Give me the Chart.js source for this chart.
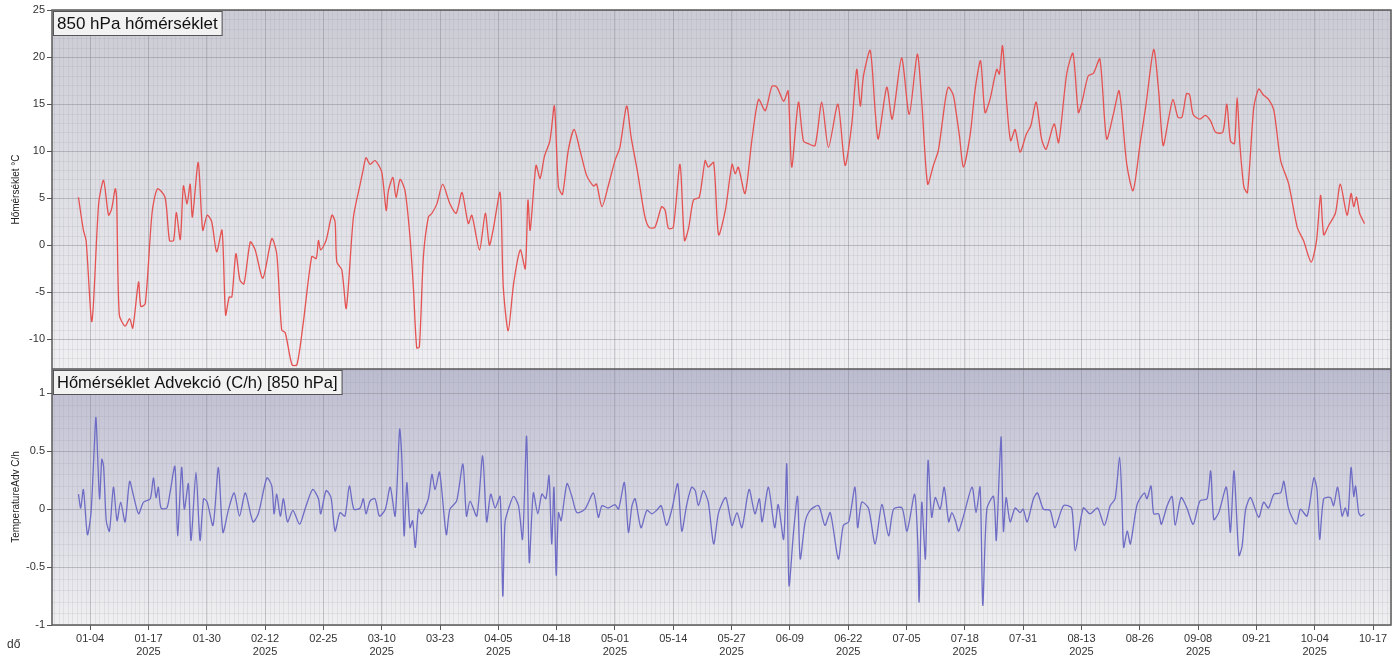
<!DOCTYPE html>
<html><head><meta charset="utf-8">
<script src="https://cdn.jsdelivr.net/npm/chart.js@4.4.1/dist/chart.umd.min.js"></script>
<style>html,body{margin:0;padding:0;background:#fff;}#wrap{width:1394px;height:661px;}</style>
</head><body><div id="wrap"><canvas id="c" width="1394" height="661"></canvas></div>
<script>
// ---- data ----
const tickDays = [3,16,29,42,55,68,81,94,107,120,133,146,159,172,185,198,211,224,237,250,263,276,289];
const tickLabels = ['01-04','01-17','01-30','02-12','02-25','03-10','03-23','04-05','04-18','05-01','05-14','05-27','06-09','06-22','07-05','07-18','07-31','08-13','08-26','09-08','09-21','10-04','10-17'];
const yearLabel = '2025';
const tempTicks = [-10,-5,0,5,10,15,20,25];
const advTicks = [-1,-0.5,0,0.5,1];
const tempTitle = '850 hPa hőmérséklet';
const advTitle = 'Hőmérséklet Advekció (C/h) [850 hPa]';

const tempDays = [0.4,1.5,2.1,3.4,4.9,6.0,7.1,7.8,8.6,8.9,9.5,10.8,11.8,12.5,13.8,14.3,15.3,16.8,18.0,19.7,20.7,21.6,22.2,23.1,23.8,24.6,25.3,25.8,27.1,28.1,29.1,30.1,31.2,32.4,33.2,34.0,34.6,35.5,36.4,37.3,38.7,39.8,41.5,43.5,44.6,45.7,46.5,48.0,49.1,50.5,52.4,53.4,53.9,54.4,55.6,56.9,57.6,58.0,59.1,60.1,61.7,63.2,63.9,64.5,65.4,66.5,68.0,69.0,69.5,70.5,71.2,72.1,73.2,74.3,75.1,75.8,76.4,77.3,78.4,79.2,80.3,81.6,83.2,84.6,85.9,87.3,88.1,89.8,91.1,92.0,92.9,94.4,95.1,96.2,97.4,98.9,100.0,100.6,101.1,102.4,103.3,104.3,105.5,106.5,107.4,108.3,109.6,110.9,112.2,113.7,115.2,115.9,117.1,118.5,120.0,121.1,122.6,123.6,125.1,126.6,127.6,128.9,130.4,131.2,131.9,133.0,134.5,135.5,136.4,137.5,138.8,140.1,140.8,142.0,143.1,144.6,146.1,146.8,147.5,149.0,150.5,152.0,153.5,155.0,156.1,157.6,158.6,159.4,160.9,162.0,163.1,164.6,166.1,167.6,169.7,171.3,172.8,173.9,174.7,175.4,176.9,178.0,178.7,180.6,181.8,183.9,185.6,187.4,188.4,189.7,191.0,192.1,193.6,194.3,195.4,196.0,196.8,197.7,199.2,200.3,201.5,202.5,203.6,205.1,205.7,206.4,207.3,208.2,209.2,210.3,211.7,212.7,213.9,215.1,216.1,217.9,218.9,220.7,222.1,223.3,224.1,225.5,226.7,228.1,229.6,231.1,232.4,234.1,235.5,237.1,238.4,240.1,241.2,242.2,243.4,244.4,245.5,246.4,247.4,248.1,248.9,250.4,251.6,252.8,253.9,255.5,256.4,257.2,258.1,258.7,259.3,260.2,261.0,262.4,263.5,264.5,265.7,266.9,268.4,270.2,272.1,273.5,275.2,276.4,277.3,278.0,279.1,280.6,281.7,283.2,284.1,284.7,285.3,286.0,287.1];
const tempVals = [5.1,1.6,0.5,-8.1,4.4,6.9,3.2,3.9,6.0,5.1,-7.4,-8.6,-7.8,-8.8,-3.9,-6.5,-6.2,3.4,6.0,5.1,0.5,0.5,3.5,0.6,6.3,4.4,6.5,3.0,8.8,1.6,3.2,2.5,-0.7,1.6,-7.4,-5.5,-5.5,-0.9,-3.7,-4.1,0.35,-0.5,-3.5,0.7,-0.9,-9.0,-9.3,-12.7,-12.7,-8.3,-1.2,-1.4,0.5,-0.5,0.5,3.2,2.5,-1.8,-2.6,-6.7,3.0,6.5,8.1,9.3,8.6,9.0,7.8,3.7,5.8,7.2,5.1,7.0,5.8,0.9,-4.8,-10.9,-10.8,-1.2,3.0,3.4,4.4,6.5,4.4,3.4,5.6,2.3,3.2,-0.5,3.4,0,1.8,5.6,-4.4,-9.1,-4.1,-0.5,-2.5,4.8,1.6,8.5,7.1,9.5,11.1,14.8,6.2,5.4,10.1,12.3,10.1,7.4,6.3,6.5,4.1,6.3,9.0,10.4,14.8,11.5,7.6,3.2,1.9,1.9,4.1,3.7,1.8,1.9,8.6,0.5,1.8,4.8,5.1,9.0,8.3,8.8,1.1,3.7,8.6,7.6,8.3,5.5,11.1,15.5,14.3,16.9,16.8,15.3,16.4,8.3,15.2,11.1,10.8,10.6,15.2,10.4,15.0,8.5,12.9,18.7,14.8,18.0,20.7,14.3,11.3,16.8,13.4,19.9,13.9,20.3,15.2,6.5,8.5,10.1,15.3,16.8,16.0,14.3,11.6,8.3,11.8,16.6,19.6,14.1,15.5,18.7,18.2,21.2,15.3,11.1,12.3,9.9,11.8,12.7,15.2,11.3,10.2,12.9,10.9,18.2,20.4,14.1,15.2,18.0,18.3,19.8,11.3,13.9,16.4,8.6,5.8,10.9,15.0,20.8,16.4,10.6,13.4,15.5,13.6,13.6,16.1,16.0,13.9,13.4,13.8,13.2,12.0,12.0,15.0,11.1,10.8,15.7,10.8,6.2,5.6,14.6,16.6,16.0,15.5,14.3,9.0,6.5,1.9,0.5,-1.8,0.5,5.3,1.1,2.1,3.4,6.5,3.2,5.5,4.1,5.1,3.4,2.3];

const advDays = [0.4,0.9,1.5,2.4,3.2,3.9,4.3,5.1,5.6,6.0,6.6,7.3,8.2,9.0,9.8,10.8,11.8,12.7,13.8,14.9,16.4,17.1,17.7,18.2,18.8,20.1,20.8,21.9,22.5,23.4,24.0,24.9,25.5,26.6,27.5,28.3,29.1,30.4,31.6,32.6,33.8,35.1,36.3,37.6,39.3,40.5,42.4,43.5,44.0,44.6,45.4,46.1,47.0,48.2,49.7,50.9,52.6,53.9,54.4,55.6,56.7,57.6,58.7,59.8,60.8,61.8,63.2,63.9,64.5,65.4,66.5,67.5,68.8,69.9,71.0,72.0,72.5,73.0,73.6,74.3,74.9,75.5,76.2,76.9,78.4,79.2,79.9,80.9,82.4,83.2,84.7,86.1,86.9,87.7,89.2,90.5,91.4,92.3,93.3,94.4,95.0,95.5,96.5,97.4,98.5,99.4,100.3,100.9,101.8,102.8,103.7,104.6,105.3,105.9,106.4,106.9,107.4,108.0,109.3,110.4,111.5,113.3,115.2,116.3,117.1,118.5,120.0,120.8,122.1,123.0,123.8,124.5,125.8,127.1,128.2,129.3,130.3,131.5,132.7,134.0,134.9,136.0,137.1,137.9,138.6,139.7,140.8,142.0,143.1,144.7,146.1,147.2,148.3,149.9,151.2,152.2,152.8,154.2,155.6,156.4,157.6,158.3,158.8,159.8,160.7,161.3,162.4,163.5,165.4,166.8,168.0,169.8,170.9,172.1,173.5,174.1,175.0,176.5,178.0,179.5,181.0,182.1,184.0,185.1,186.8,187.5,187.8,188.4,189.2,189.8,190.6,191.4,192.5,193.4,194.4,195.1,195.9,196.6,197.7,199.6,200.5,201.4,202.0,202.9,204.4,205.0,205.7,206.1,206.6,207.2,208.1,209.2,210.3,211.0,211.9,213.3,214.2,215.5,217.0,218.1,220.0,221.8,222.6,224.4,225.9,227.6,229.1,230.4,231.5,232.5,233.0,233.4,234.2,234.9,236.4,238.0,238.6,239.5,240.1,241.2,241.8,243.1,244.2,244.9,246.2,247.5,248.9,250.4,252.0,252.8,253.5,254.6,256.3,257.2,258.0,259.1,259.8,260.6,261.7,263.5,264.6,265.7,266.9,268.4,269.1,270.2,271.9,272.8,274.3,275.8,276.5,277.1,278.0,279.5,280.2,281.1,282.1,282.8,283.4,284.1,284.7,285.1,285.8,286.3,287.1];
const advVals = [0.13,0.01,0.17,-0.22,-0.03,0.52,0.79,0.09,0.43,0.37,-0.10,-0.19,0.19,-0.10,0.06,-0.11,0.24,0.11,-0.04,0.06,0.09,0.27,0.10,0.19,0.01,0.01,0.14,0.37,-0.23,0.36,0,0.22,-0.27,0.32,-0.27,0.09,0.06,-0.14,0.36,-0.20,-0.01,0.14,-0.06,0.14,-0.11,-0.04,0.27,0.20,-0.04,0.13,-0.06,0.09,-0.11,-0.01,-0.13,0,0.17,0.09,-0.04,0.16,0.10,-0.19,-0.03,-0.06,0.20,0,0.01,0.09,-0.04,0.07,0.09,-0.06,0,0.19,-0.06,0.69,0.43,-0.23,0.23,-0.16,-0.10,-0.33,0,-0.04,0.09,0.30,0.17,0.32,-0.22,0,0.07,0.39,-0.06,0.07,-0.06,0.46,-0.11,0.13,0.01,0.11,-0.75,-0.11,0.03,0.11,0.03,-0.26,0.63,-0.46,0.14,-0.04,0.13,0.09,0.29,-0.30,0.19,-0.57,-0.03,-0.10,0.22,0.11,-0.03,0,0.14,-0.07,0.03,0.01,0.04,0,0.23,-0.20,0.03,0.09,-0.16,-0.01,-0.04,-0.01,0.03,-0.14,0,0.22,-0.19,0.04,0.19,0.16,0.03,0.16,0.06,-0.30,-0.03,0.10,-0.14,-0.03,-0.16,0.17,-0.04,0.09,-0.11,0.19,-0.16,0.04,-0.26,0.39,-0.66,-0.20,0.11,-0.43,-0.11,-0.01,0.03,-0.14,-0.03,-0.43,-0.14,-0.11,0.19,-0.16,0.06,0.01,-0.30,0.04,-0.23,0,0.01,-0.19,0.13,-0.29,-0.80,0.06,-0.43,0.42,-0.07,0.10,0,0.19,-0.11,-0.03,-0.10,-0.19,-0.06,0.19,-0.03,0.19,-0.83,0,0.11,-0.27,0.34,0.62,-0.19,0.10,-0.11,0.01,-0.03,0,-0.11,0.09,0.14,0,-0.01,-0.16,0.03,0.01,-0.36,0.01,-0.04,0.01,-0.14,0.03,0.09,0.45,0.09,-0.33,-0.19,-0.30,0.04,0.14,0.09,0.20,-0.04,-0.04,-0.13,0.03,0.11,-0.14,0.10,0.01,-0.13,0.07,0.09,0.33,-0.09,-0.03,0.19,-0.20,0.33,-0.40,-0.32,0,0.10,-0.07,0.06,0.01,0.13,0.14,0.24,0,-0.13,0,-0.06,0.27,0.17,-0.26,0.09,0.10,0.03,0.19,-0.06,0.01,-0.06,0.36,0.11,0.20,-0.03,-0.06,-0.04];

// ---- chart ----
const FONT = 'Liberation Sans, Arial, sans-serif';
const tempPts = tempDays.map((d,i)=>({x:d,y:tempVals[i]}));
const advPts = advDays.map((d,i)=>({x:d,y:advVals[i]}));

const panelPlugin = {
  id:'panels',
  beforeDraw(chart){
    const ctx = chart.ctx, ca = chart.chartArea;
    const sT = chart.scales.yT, sA = chart.scales.yA, sx = chart.scales.x;
    ctx.save();
    let g = ctx.createLinearGradient(0,sT.top,0,sT.bottom);
    g.addColorStop(0,'rgb(203,203,213)'); g.addColorStop(1,'rgb(240,240,243)');
    ctx.fillStyle = g; ctx.fillRect(ca.left,sT.top,ca.right-ca.left,sT.bottom-sT.top);
    g = ctx.createLinearGradient(0,sA.top,0,sA.bottom);
    g.addColorStop(0,'rgb(188,188,208)'); g.addColorStop(1,'rgb(240,240,242)');
    ctx.fillStyle = g; ctx.fillRect(ca.left,sA.top,ca.right-ca.left,sA.bottom-sA.top);
    // minor grid
    ctx.lineWidth = 1;
    ctx.strokeStyle = 'rgba(150,150,162,0.16)';
    ctx.beginPath();
    for (let d = Math.ceil(sx.min); d <= sx.max; d += 1) {
      const px = Math.round(sx.getPixelForValue(d)) + 0.5;
      ctx.moveTo(px, ca.top); ctx.lineTo(px, ca.bottom);
    }
    for (let v = -13; v <= 25; v += 1) {
      const py = Math.round(sT.getPixelForValue(v)) + 0.5;
      if (py > sT.top && py < sT.bottom) { ctx.moveTo(ca.left, py); ctx.lineTo(ca.right, py); }
    }
    for (let k = -10; k <= 12; k += 1) {
      const py = Math.round(sA.getPixelForValue(k/10)) + 0.5;
      if (py > sA.top && py < sA.bottom) { ctx.moveTo(ca.left, py); ctx.lineTo(ca.right, py); }
    }
    ctx.stroke();
    ctx.restore();
  },
  afterDraw(chart){
    const ctx = chart.ctx, ca = chart.chartArea;
    const sT = chart.scales.yT, sA = chart.scales.yA;
    ctx.save();
    ctx.strokeStyle = '#5a5a5a'; ctx.lineWidth = 1.5;
    ctx.strokeRect(ca.left, ca.top, ca.right-ca.left, ca.bottom-ca.top);
    ctx.beginPath(); ctx.moveTo(ca.left, sT.bottom); ctx.lineTo(ca.right, sT.bottom); ctx.stroke();
    // title boxes
    const box = (txt, top, size) => {
      ctx.font = size + 'px ' + FONT;
      const w = ctx.measureText(txt).width + 8;
      ctx.fillStyle = '#f2f2f2';
      ctx.fillRect(ca.left+1, top+1, w, 24);
      ctx.strokeStyle = '#555'; ctx.lineWidth = 1;
      ctx.strokeRect(ca.left+1.5, top+1.5, w, 24);
      ctx.fillStyle = '#111'; ctx.textBaseline = 'middle'; ctx.textAlign = 'left';
      ctx.fillText(txt, ca.left+5, top+14);
    };
    box(tempTitle, sT.top, 17);
    box(advTitle, sA.top, 16.5);
    ctx.font = '12px ' + FONT; ctx.fillStyle = '#333'; ctx.textAlign='left'; ctx.textBaseline='middle';
    ctx.fillText('dő', 7, 645);
    ctx.restore();
  }
};

const yCommon = (ticks, title) => ({
  type:'linear', position:'left', stack:'panels',
  afterBuildTicks: s => { s.ticks = ticks.map(v=>({value:v})); },
  afterFit: s => { s.width = 52; },
  ticks:{font:{family:FONT,size:11}, color:'#333', padding:2, callback: v => String(v)},
  grid:{color:'rgba(120,120,132,0.32)', tickLength:5, tickColor:'#555', lineWidth:1},
  border:{display:false},
  title:{display:true, text:title, font:{family:FONT,size:10}, color:'#222', padding:{top:10,bottom:0}}
});

new Chart(document.getElementById('c'), {
  type:'line',
  data:{datasets:[
    {data:tempPts, yAxisID:'yT', borderColor:'rgb(228,82,82)', borderWidth:1.3, pointRadius:0, tension:0.25, fill:false},
    {data:advPts, yAxisID:'yA', borderColor:'rgb(110,108,196)', borderWidth:1.3, pointRadius:0, tension:0.25, fill:false}
  ]},
  plugins:[panelPlugin],
  options:{
    responsive:false, animation:false, devicePixelRatio:1,
    layout:{padding:{left:0,right:3,top:10,bottom:0}},
    plugins:{legend:{display:false}, tooltip:{enabled:false}},
    scales:{
      x:{type:'linear', min:-5.5, max:293,
        afterBuildTicks: s => { s.ticks = tickDays.map(v=>({value:v})); },
        afterFit: s => { s.height = 36; },
        ticks:{autoSkip:false, maxRotation:0, font:{family:FONT,size:11}, color:'#333', padding:2,
          callback:(v,i)=> (i%2===1 ? [tickLabels[i], yearLabel] : tickLabels[i])},
        grid:{color:'rgba(120,120,132,0.32)', tickLength:5, tickColor:'#555'},
        border:{display:false}
      },
      yA: Object.assign(yCommon(advTicks,'TemperatureAdv C/h'), {min:-1, max:1.21, stackWeight:256}),
      yT: Object.assign(yCommon(tempTicks,'Hőmérséklet °C'), {min:-13.15, max:25, stackWeight:359})
    }
  }
});
</script></body></html>
